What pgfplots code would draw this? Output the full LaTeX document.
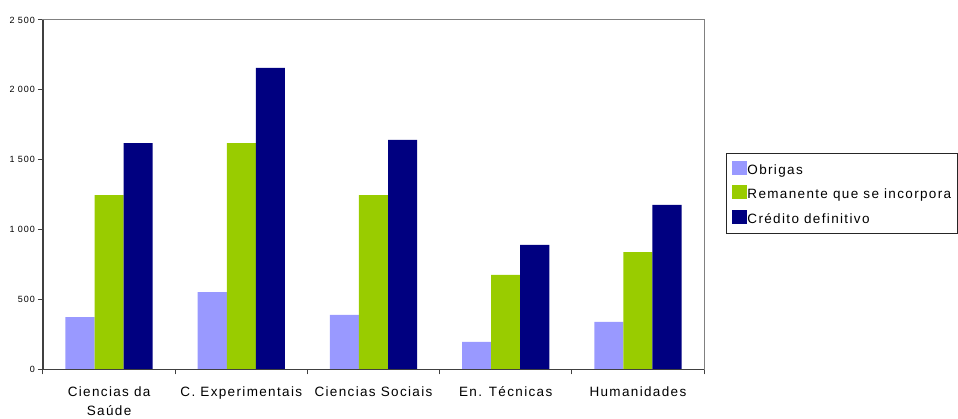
\documentclass[border=0pt]{standalone}
\usepackage{pgfplots}
\pgfplotsset{compat=1.18}
\usepackage{fontspec}
\setmainfont{Liberation Sans}
\newfontfamily\lsfont[LetterSpace=10]{Liberation Sans}
\definecolor{cobr}{HTML}{9999FF}
\definecolor{crem}{HTML}{99CC00}
\definecolor{ccre}{HTML}{000080}
\begin{document}
\begin{tikzpicture}[x=1pt,y=1pt]
\path[use as bounding box] (0,0) rectangle (958,419);
\begin{axis}[
  at={(43pt,49.5pt)}, anchor=south west,
  width=661pt, height=349.5pt, scale only axis,
  xmin=-0.5, xmax=4.5, ymin=0, ymax=2500,
  ybar, bar width=0.22,
  clip=false,
  axis line style={draw=black!50, line width=1pt},
  xtick={0,1,2,3,4},
  xticklabels={{Ciencias da\\Saúde},{C. Experimentais},{Ciencias Sociais},{En. Técnicas},{Humanidades}},
  minor xtick={-0.5,0.5,...,4.5},
  major x tick style={draw=none},
  minor x tick style={draw=black!75, line width=1pt},
  minor tick length=5pt,
  major tick length=5pt,
  tick align=outside,
  tick pos=left,
  ytick={0,500,...,2500},
  yticklabels={0,500,1 000,1 500,2 000,2 500},
  major y tick style={draw=black!75, line width=1pt},
  yticklabel style={font=\lsfont\fontsize{9}{10}\selectfont, inner sep=0pt, xshift=-3pt},
  xticklabel style={font=\lsfont\fontsize{13.5}{19.5}\selectfont, align=center, inner sep=0pt, yshift=-12pt},
  legend style={at={(1.0333,0.619)}, anchor=north west, draw=black!85, line width=0.8pt, fill=white,
    font=\lsfont\fontsize{13.5}{15}\selectfont, inner xsep=6pt, inner ysep=7pt, row sep=8pt, column sep=0pt,
    nodes={inner sep=0pt, anchor=west, text depth=3pt, text height=10pt}},
  legend cell align=left,
]
\addplot[fill=cobr, draw=none, bar shift=-0.22, legend image code/.code={\fill[cobr] (0pt,-4pt) rectangle (15pt,10pt);}]
  coordinates {(0,375) (1,554) (2,390) (3,197) (4,340)};
\addplot[fill=crem, draw=none, bar shift=0, legend image code/.code={\fill[crem] (0pt,-4pt) rectangle (15pt,10pt);}]
  coordinates {(0,1248) (1,1620) (2,1248) (3,676) (4,840)};
\addplot[fill=ccre, draw=none, bar shift=0.22, legend image code/.code={\fill[ccre] (0pt,-4pt) rectangle (15pt,10pt);}]
  coordinates {(0,1620) (1,2157) (2,1642) (3,891) (4,1177)};
\legend{Obrigas, Remanente que se incorpora, Crédito definitivo}
\draw[black!75, line width=1.6pt] (rel axis cs:0,1) -- (rel axis cs:0,0) -- (rel axis cs:1,0);
\end{axis}
\end{tikzpicture}
\end{document}
